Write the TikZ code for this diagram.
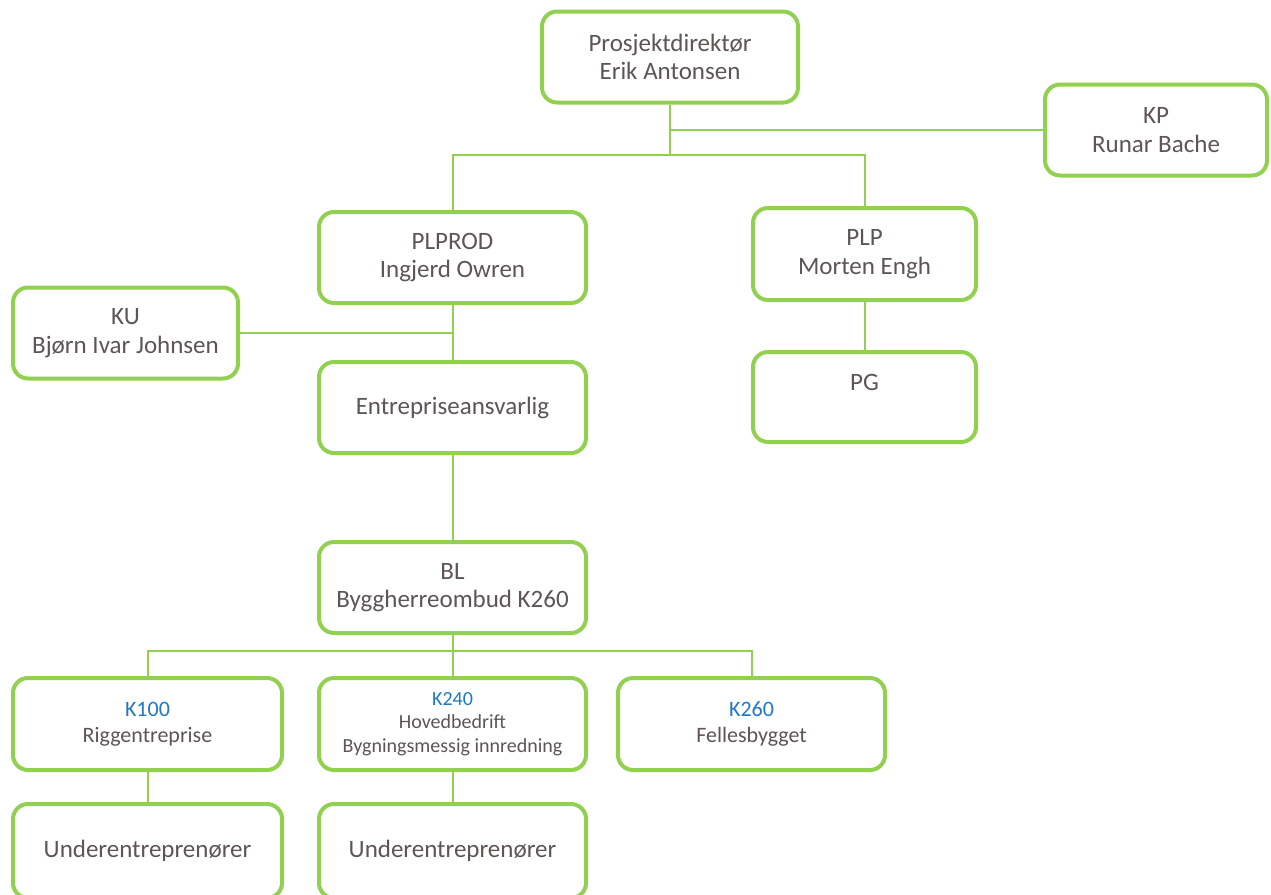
\documentclass[tikz,border=0pt]{standalone}
\usepackage{fontspec}
\setmainfont{Carlito}
\usepackage{tikz}
\definecolor{org-green}{RGB}{146,208,80}
\definecolor{org-text}{RGB}{94,85,85}
\definecolor{org-blue}{RGB}{31,120,200}
\newcommand*\kcode[1]{{\color{org-blue}#1}}

\begin{document}
\begin{tikzpicture}[x=0.5pt,y=-0.5pt,
				box/.style={draw=org-green,line width=2pt,rounded corners=7.5pt,fill=white,align=center,text=org-text,inner sep=0pt,minimum height=45.5pt,font=\fontsize{12.5}{14.25}\selectfont},
				wide/.style={box,minimum width=133.5pt},
				small/.style={box,font=\fontsize{11}{13}\selectfont},
				tiny/.style={box,font=\fontsize{10}{11.75}\selectfont},
				link/.style={draw=org-green,line width=1pt}]
				\fill[white] (0,0) rectangle (1271,895);
				\useasboundingbox (0,0) rectangle (1271,895);
				% top level
				\node[box,minimum width=128pt] (dir) at (670,57) {Prosjektdirektør\\Erik Antonsen};
				\node[box,minimum width=111pt] (kp) at (1156,130) {KP\\Runar Bache};
				% second level
				\node[wide] (plprod) at (452.5,257.5) {PLPROD\\Ingjerd Owren};
				\node[box,minimum width=111.5pt,minimum height=46pt] (plp) at (864.5,254) {PLP\\Morten Engh};
				\node[box,minimum width=112.5pt] (ku) at (125.5,333) {KU\\Bjørn Ivar Johnsen};
				\node[wide] (entr) at (452.5,407.5) {Entrepriseansvarlig};
				\node[box,minimum width=111.5pt,minimum height=45pt] (pg) at (864.5,397) {PG\\\mbox{}};
				\node[wide] (bl) at (452.5,587.5) {BL\\Byggherreombud K260};
				% contracts
				\node[small,minimum width=134.5pt,minimum height=46pt] (k100) at (147.5,724) {\kcode{K100}\\Riggentreprise};
				\node[tiny,minimum width=133.5pt,minimum height=46pt] (k240) at (452.5,724) {\kcode{K240}\\Hovedbedrift\\Bygningsmessig innredning};
				\node[small,minimum width=133.5pt,minimum height=46pt] (k260) at (751.5,724) {\kcode{K260}\\Fellesbygget};
				\node[box,minimum width=134.5pt,minimum height=47pt] (under1) at (147.5,851) {Underentreprenører};
				\node[wide,minimum height=47pt] (under2) at (452.5,851) {Underentreprenører};
				% connectors
				\coordinate (hubtop) at (670,155);
				\coordinate (hubbl) at (452.5,651);
				\draw[link] (dir.south) |- (kp.west);
				\draw[link] (dir.south) -- (hubtop) -| (plprod.north);
				\draw[link] (hubtop) -| (plp.north);
				\draw[link] (plprod.south) -- (entr.north);
				\draw[link] (ku.east) -- (ku.east -| plprod.south);
				\draw[link] (plp.south) -- (pg.north);
				\draw[link] (entr.south) -- (bl.north);
				\draw[link] (bl.south) -- (hubbl) -| (k100.north);
				\draw[link] (hubbl) -| (k260.north);
				\draw[link] (hubbl) -- (k240.north);
				\draw[link] (k100.south) -- (under1.north);
				\draw[link] (k240.south) -- (under2.north);
\end{tikzpicture}
\end{document}
